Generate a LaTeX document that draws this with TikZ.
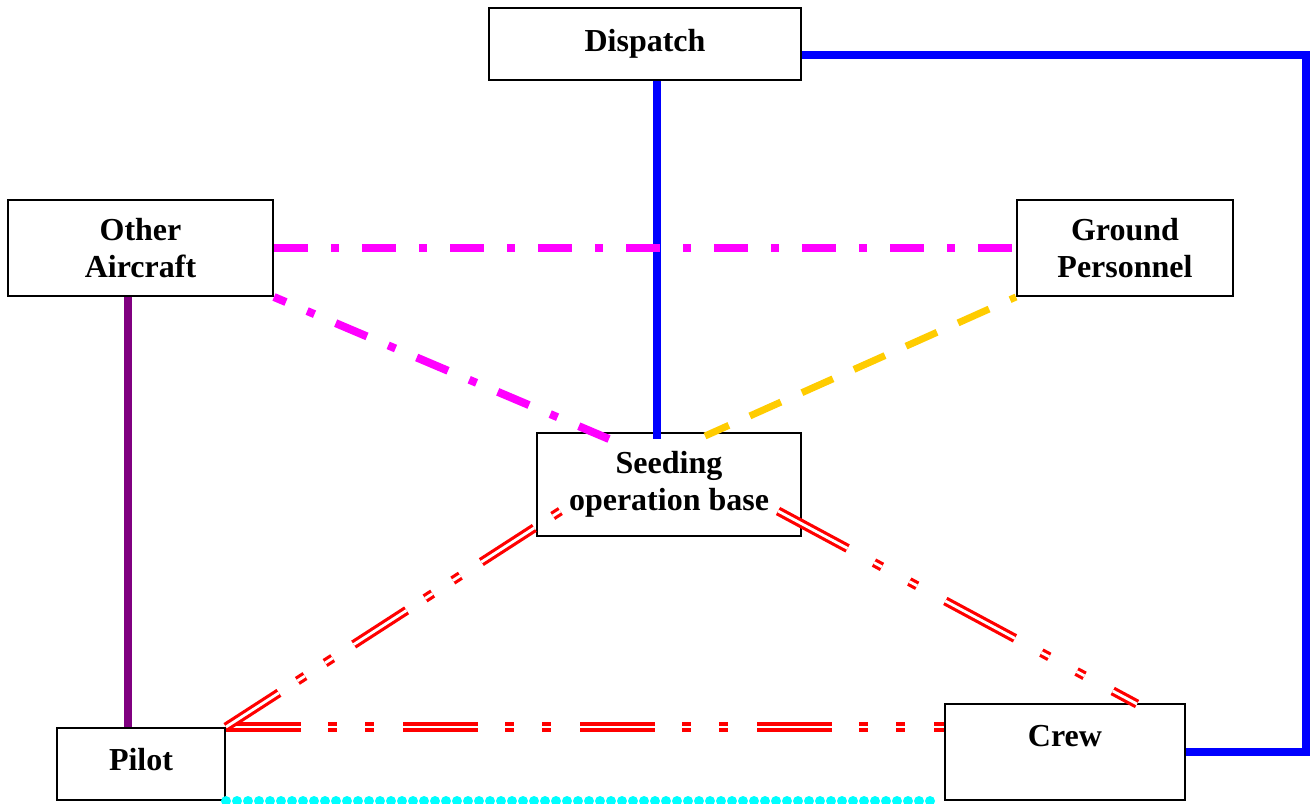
\documentclass[tikz,border=0pt]{standalone}
\usepackage{fontspec}
\setmainfont{Liberation Serif}
\usetikzlibrary{calc}
\definecolor{cblue}{RGB}{0,0,255}
\definecolor{cmag}{RGB}{255,0,255}
\definecolor{cyel}{RGB}{255,204,0}
\definecolor{cpur}{RGB}{128,0,128}
\definecolor{ccyan}{RGB}{0,255,255}
\definecolor{cred}{RGB}{255,0,0}
\begin{document}
\begin{tikzpicture}[x=1pt,y=-1pt,
  box/.style={draw=black,line width=2pt,inner sep=0pt,align=center,
    font=\fontsize{32}{37}\selectfont\bfseries},
  lbl/.style={inner sep=0pt,align=center,font=\fontsize{32}{37}\selectfont\bfseries},
  blueline/.style={draw=cblue,line width=7.5pt},
  magline/.style={draw=cmag,line width=8pt,dash pattern=on 34pt off 23pt on 8pt off 23pt},
  yelline/.style={draw=cyel,line width=7pt,dash pattern=on 34pt off 23pt,dash phase=27.5pt},
  purline/.style={draw=cpur,line width=8pt},
  cyanline/.style={draw=ccyan,line width=10pt,line cap=round,dash pattern=on 0pt off 11pt},
  redline/.style={draw=cred,line width=3.2pt,double=white,double distance=2.8pt}
]
\useasboundingbox (0,0) rectangle (1316,803);

% boxes
\node[box,minimum width=312pt,minimum height=72pt] (disp) at (645,44) {Dispatch};
\node[box,minimum width=265pt,minimum height=96pt] (other) at (140.5,248) {Other\\Aircraft};
\node[box,minimum width=216pt,minimum height=96pt] (ground) at (1125,248) {Ground\\Personnel};
\node[box,minimum width=264pt,minimum height=103pt] (seed) at (669,484.5) {Seeding\\operation base};
\node[box,minimum width=168pt,minimum height=72pt] (pilot) at (141,764) {};
\node[lbl] (pilotlbl) at (141,760) {Pilot};
\node[box,minimum width=240pt,minimum height=96pt] (crew) at (1065,752) {};
\node[lbl] (crewlbl) at (1065,736) {Crew};

% connectors
\draw[blueline] ($(disp.south)+(12,0)$) -- ($(seed.north)+(-12,7)$);
\draw[blueline,line join=miter] ($(disp.north east)+(0,48)$) -- ++(504,0) |- (crew.east);
\draw[magline] (other.east) -- (ground.west);
\draw[magline,dash phase=21pt] (other.south east) -- ($(seed.north west)+(73,7)$);
\draw[yelline] (ground.south west) -- ($(seed.north)+(36,4)$);
\draw[purline] ($(other.south west)+(121,0)$) -- ($(pilot.north west)+(72,0)$);
\draw[cyanline] ($(pilot.south east)+(0,0)$) -- ($(crew.south west)+(-5,0)$);
\draw[redline,dash pattern=on 75pt off 27pt on 9pt off 28pt on 9pt off 29pt]
  (pilot.north east) -- (pilot.north east -| crew.west);
\draw[redline,dash pattern=on 63pt off 22pt on 9pt off 24pt on 9pt off 25pt]
  (pilot.north east) -- ($(seed.north west)+(26,78)$);
\draw[redline,dash pattern=on 79pt off 30pt on 9pt off 31pt on 9pt off 32pt]
  ($(seed.north east)+(-24,79)$) -- ($(crew.north)+(72,1)$);
\end{tikzpicture}
\end{document}
